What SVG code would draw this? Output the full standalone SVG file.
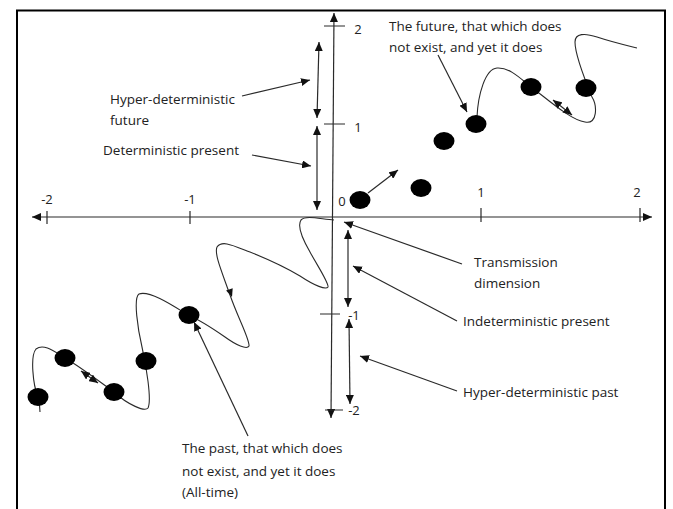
<svg xmlns="http://www.w3.org/2000/svg" width="673" height="509" viewBox="0 0 673 509">
<defs>
<marker id="ah" markerUnits="userSpaceOnUse" markerWidth="9" markerHeight="8" refX="9" refY="4" orient="auto-start-reverse"><path d="M0,0 L9,4 L0,8 z" fill="#111"/></marker>
<style>
.t{font-family:"Open Sans","Liberation Sans",sans-serif;font-size:13.5px;fill:#222}
.n{font-family:"Open Sans","Liberation Sans",sans-serif;font-size:13px;fill:#222}
.ln{stroke:#2a2a2a;stroke-width:1.2;fill:none}
.a1{marker-end:url(#ah)}
.a2{marker-start:url(#ah);marker-end:url(#ah)}
.dot{fill:#000}
.crv{stroke:#2a2a2a;stroke-width:1.1;fill:none}
</style>
</defs>
<rect width="673" height="509" fill="#fff"/>
<path d="M17,520 V10.5 H665 V520" fill="none" stroke="#000" stroke-width="2"/>
<g id="axes">
<line class="ln a2" x1="32" y1="217" x2="652" y2="217"/>
<line class="ln a2" x1="334" y1="13" x2="331" y2="418"/>
<path class="ln" d="M47,211 V224 M190,211 V224 M481,208 V222 M640,208 V222 M324,26 H345 M324,124 H345 M320,314 H340 M325,410 H343"/>
<text class="n" x="47" y="204" text-anchor="middle">-2</text>
<text class="n" x="190" y="204" text-anchor="middle">-1</text>
<text class="n" x="481" y="197" text-anchor="middle">1</text>
<text class="n" x="637" y="197" text-anchor="middle">2</text>
<text class="n" x="358" y="34" text-anchor="middle">2</text>
<text class="n" x="358" y="132" text-anchor="middle">1</text>
<text class="n" x="342" y="206" text-anchor="middle">0</text>
<text class="n" x="354" y="320" text-anchor="middle">-1</text>
<text class="n" x="354" y="415" text-anchor="middle">-2</text>
</g>
<g id="future-curve">
<path class="crv" d="M477,117 C478,95 485,69 497,68 C510,67 522,80 531,87 C545,97 570,120 585,122 C598,125 597,105 592,97 C585,80 575,55 575,42 C575,33 585,33 597,37 C612,42 625,45 637,48"/>
</g>
<g id="past-curve">
<path class="crv" d="M334,220 C320,219 306,215 301,220 C297,226 303,240 310,252 C317,265 329,283 328,287 C326,290 315,286 300,276 C285,267 265,258 250,252 C232,245 222,240 217,247 C214,254 222,272 230,295 C238,318 250,340 249,346 C247,350 236,345 225,337 C212,328 200,320 188,315 C175,307 150,290 139,294 C133,298 138,330 142,347 C146,365 152,400 148,408 C145,412 128,405 114,392 C100,382 82,368 65,358 C55,352 44,343 36,349 C30,356 33,385 38,397 C40,404 40,409 40,412"/>
<polygon points="232,297 232.7,288.3 226.1,290.5" fill="#111"/>
</g>
<g id="future-dots">
<ellipse class="dot" cx="360" cy="200" rx="10.5" ry="9"/>
<ellipse class="dot" cx="421" cy="188" rx="10.5" ry="9"/>
<ellipse class="dot" cx="444" cy="141" rx="10.5" ry="9"/>
<ellipse class="dot" cx="476" cy="124" rx="10.5" ry="9"/>
<ellipse class="dot" cx="531" cy="87" rx="10.5" ry="9"/>
<ellipse class="dot" cx="586" cy="88" rx="10.5" ry="9"/>
</g>
<g id="past-dots">
<ellipse class="dot" cx="189" cy="315" rx="10.5" ry="9"/>
<ellipse class="dot" cx="146" cy="361" rx="10.5" ry="9"/>
<ellipse class="dot" cx="114" cy="392" rx="10.5" ry="9"/>
<ellipse class="dot" cx="65" cy="358" rx="10.5" ry="9"/>
<ellipse class="dot" cx="38" cy="397" rx="10.5" ry="9"/>
</g>
<g id="label-hdf"><text class="t" x="110" y="104">Hyper-deterministic</text><text class="t" x="110" y="125">future</text></g>
<g id="label-dp"><text class="t" x="103" y="155">Deterministic present</text></g>
<g id="label-future"><text class="t" x="389" y="31">The future, that which does</text><text class="t" x="389" y="52">not exist, and yet it does</text></g>
<g id="label-td"><text class="t" x="474" y="267">Transmission</text><text class="t" x="474" y="288">dimension</text></g>
<g id="label-ip"><text class="t" x="463" y="326">Indeterministic present</text></g>
<g id="label-hdp"><text class="t" x="463" y="397">Hyper-deterministic past</text></g>
<g id="label-past"><text class="t" x="182" y="453">The past, that which does</text><text class="t" x="182" y="476">not exist, and yet it does</text><text class="t" x="182" y="497">(All-time)</text></g>
<g id="connectors">
<line class="ln a2" x1="319" y1="42" x2="317" y2="118"/>
<line class="ln a2" x1="317" y1="126" x2="317" y2="210"/>
<line class="ln a1" x1="242" y1="96" x2="310" y2="80"/>
<line class="ln a1" x1="252" y1="155" x2="311" y2="166"/>
<line class="ln a1" x1="438" y1="55" x2="467" y2="112"/>
<line class="ln a1" x1="368" y1="193" x2="398" y2="170"/>
<line class="ln a2" x1="553" y1="100" x2="572" y2="115"/>
<line class="ln a1" x1="462" y1="264" x2="344" y2="222"/>
<line class="ln a2" x1="348" y1="230" x2="348" y2="307"/>
<line class="ln a1" x1="457" y1="321" x2="353" y2="266"/>
<line class="ln a2" x1="349" y1="319" x2="350" y2="404"/>
<line class="ln a1" x1="457" y1="391" x2="360" y2="356"/>
<line class="ln a1" x1="248" y1="436" x2="194" y2="322"/>
<line class="ln a2" x1="81" y1="371" x2="98" y2="383"/>
</g>
</svg>
